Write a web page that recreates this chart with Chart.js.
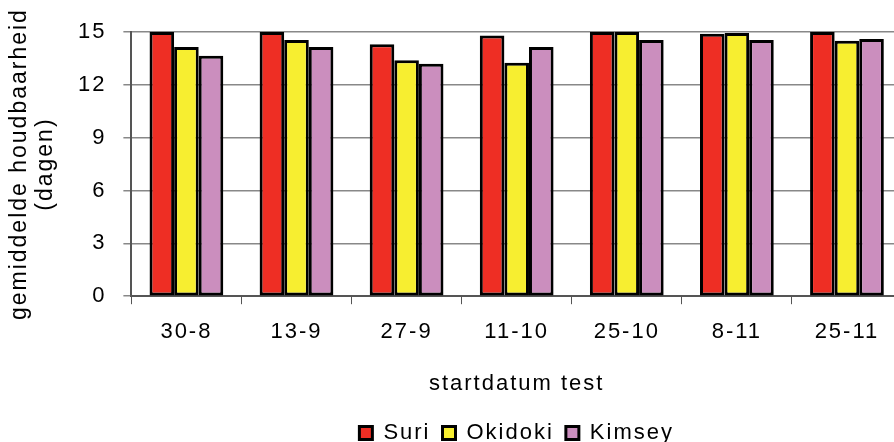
<!DOCTYPE html>
<html>
<head>
<meta charset="utf-8">
<script src="https://cdn.jsdelivr.net/npm/chart.js@4.4.0/dist/chart.umd.min.js"></script>
<style>
    html, body { margin: 0; padding: 0; overflow: hidden; background: #fff; }
    #wrap { width: 906px; height: 442px; }
</style>
</head>
<body>
<div id="wrap"><canvas id="houdbaarheidChart" width="906" height="442"></canvas></div>
<script>
// data
const categories = ['30-8', '13-9', '27-9', '11-10', '25-10', '8-11', '25-11'];
const suri = [15, 15, 14.3, 14.8, 15, 14.9, 15];
const okidoki = [14.15, 14.55, 13.4, 13.25, 15, 14.95, 14.5];
const kimsey = [13.65, 14.15, 13.2, 14.15, 14.55, 14.55, 14.6];
const yTicks = [0, 3, 6, 9, 12, 15];

const fontFamily = '"Liberation Sans", Arial, Helvetica, sans-serif';

// spread out the letters a bit, like the original
const letterSpacing = {
    id: 'letterSpacing',
    beforeLayout(chart) { chart.ctx.letterSpacing = '2px'; },
    beforeDraw(chart) { chart.ctx.letterSpacing = '2px'; }
};

function barSet(label, data, color) {
    return {
        label: label,
        data: data,
        backgroundColor: color,
        borderColor: '#000',
        borderWidth: 3,
        borderSkipped: false
    };
}

new Chart(document.getElementById('houdbaarheidChart'), {
    type: 'bar',
    data: {
        labels: categories,
        datasets: [
            barSet('Suri', suri, 'rgb(238, 46, 36)'),
            barSet('Okidoki', okidoki, 'rgb(247, 238, 48)'),
            barSet('Kimsey', kimsey, 'rgb(203, 142, 190)')
        ]
    },
    options: {
        responsive: false,
        animation: false,
        categoryPercentage: 0.67,
        barPercentage: 1.0,
        layout: { padding: { top: 32, right: 4, left: 6, bottom: -12 } },
        plugins: {
            legend: {
                position: 'bottom',
                fullSize: false,
                labels: {
                    color: '#000',
                    boxWidth: 13,
                    boxHeight: 13,
                    padding: 12,
                    font: { family: fontFamily, size: 22 }
                }
            },
            tooltip: { enabled: false }
        },
        scales: {
            x: {
                grid: {
                    offset: true,
                    drawOnChartArea: false,
                    drawTicks: true,
                    tickLength: 8,
                    color: '#555'
                },
                border: { color: '#555', width: 2 },
                ticks: {
                    color: '#000',
                    padding: 15,
                    font: { family: fontFamily, size: 22 }
                },
                title: {
                    display: true,
                    text: 'startdatum test',
                    color: '#000',
                    padding: { top: 10, bottom: 13 },
                    font: { family: fontFamily, size: 22 }
                }
            },
            y: {
                min: 0,
                max: 15,
                afterBuildTicks(scale) {
                    scale.ticks = yTicks.map(v => ({ value: v }));
                },
                grid: {
                    color: '#888',
                    lineWidth: 1.5,
                    tickLength: 8
                },
                border: { color: '#555', width: 2 },
                ticks: {
                    color: '#000',
                    padding: 17,
                    font: { family: fontFamily, size: 22 }
                },
                title: {
                    display: true,
                    text: ['gemiddelde houdbaarheid', '(dagen)'],
                    color: '#000',
                    padding: { top: 0, bottom: 2 },
                    font: { family: fontFamily, size: 23, lineHeight: 1.15 }
                }
            }
        }
    },
    plugins: [letterSpacing]
});
</script>
</body>
</html>
